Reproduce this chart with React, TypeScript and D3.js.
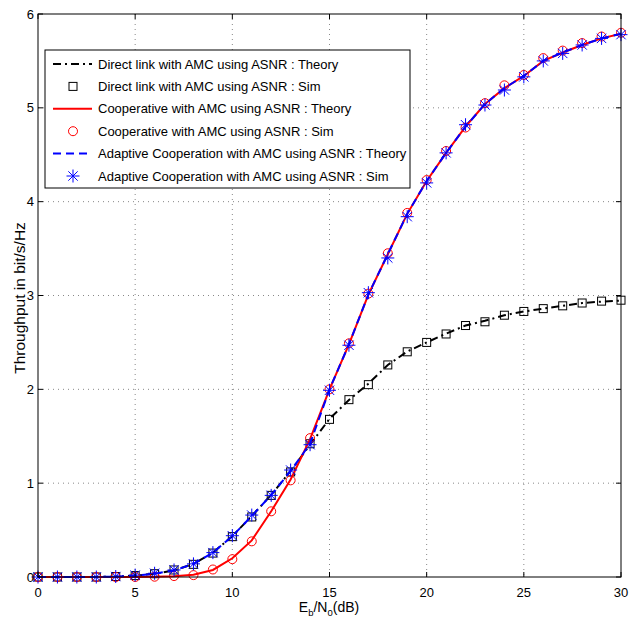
import React from "react";
import * as d3 from "d3";

const snr = d3.range(0, 31);
const directTheory = [0, 0, 0, 0, 0.005, 0.015, 0.035, 0.07, 0.14, 0.26, 0.435, 0.65, 0.875, 1.13, 1.41, 1.685, 1.887, 2.06, 2.259, 2.403, 2.5, 2.594, 2.68, 2.73, 2.79, 2.83, 2.86, 2.89, 2.92, 2.935, 2.945];
const directSim = [0, 0, 0, 0, 0.005, 0.015, 0.035, 0.075, 0.135, 0.255, 0.43, 0.64, 0.87, 1.12, 1.42, 1.68, 1.89, 2.05, 2.26, 2.4, 2.5, 2.59, 2.68, 2.72, 2.79, 2.83, 2.86, 2.89, 2.92, 2.94, 2.95];
const coopTheory = [0, 0, 0, 0, 0, 0, 0.002, 0.008, 0.025, 0.075, 0.2, 0.39, 0.7, 1.04, 1.47, 2.0, 2.48, 3.01, 3.44, 3.87, 4.22, 4.52, 4.8, 5.04, 5.21, 5.34, 5.5, 5.59, 5.67, 5.74, 5.79];
const coopSim = [0, 0, 0, 0, 0, 0, 0.003, 0.01, 0.02, 0.08, 0.19, 0.38, 0.7, 1.03, 1.48, 2.0, 2.49, 3.02, 3.45, 3.88, 4.23, 4.54, 4.79, 5.05, 5.24, 5.35, 5.53, 5.61, 5.69, 5.76, 5.8];
const adaptTheory = [0, 0, 0, 0, 0.005, 0.015, 0.035, 0.07, 0.14, 0.26, 0.435, 0.65, 0.875, 1.13, 1.42, 2.0, 2.48, 3.01, 3.44, 3.87, 4.22, 4.52, 4.8, 5.04, 5.21, 5.34, 5.5, 5.59, 5.67, 5.74, 5.79];
const adaptSim = [0, 0, 0, 0, 0.005, 0.02, 0.04, 0.075, 0.14, 0.26, 0.44, 0.66, 0.87, 1.14, 1.41, 1.99, 2.47, 3.03, 3.4, 3.84, 4.2, 4.52, 4.82, 5.03, 5.19, 5.33, 5.5, 5.58, 5.67, 5.74, 5.78];

const xTicks = [0, 5, 10, 15, 20, 25, 30];
const yTicks = [0, 1, 2, 3, 4, 5, 6];
const legendLabels = [
  "Direct link with AMC using ASNR : Theory",
  "Direct link with AMC using ASNR : Sim",
  "Cooperative with AMC using ASNR : Theory",
  "Cooperative with AMC using ASNR : Sim",
  "Adaptive Cooperation with AMC using ASNR : Theory",
  "Adaptive Cooperation with AMC using ASNR : Sim",
];

const FONT = "'Liberation Sans', Arial, Helvetica, sans-serif";
const L = 38, R = 621, T = 14, B = 577;

const x = d3.scaleLinear().domain([0, 30]).range([L, R]);
const y = d3.scaleLinear().domain([0, 6]).range([B, T]);

const line = (vals: number[]) =>
  d3.line<number>().x((_, i) => x(snr[i])).y((d) => y(d))(vals) || "";

const Square = ({ cx, cy }: { cx: number; cy: number }) => (
  <rect x={cx - 4} y={cy - 4} width={8} height={8} fill="none" stroke="#000" strokeWidth={1} />
);
const Circle = ({ cx, cy }: { cx: number; cy: number }) => (
  <circle cx={cx} cy={cy} r={4.5} fill="none" stroke="#ff0000" strokeWidth={1} />
);
const Star = ({ cx, cy }: { cx: number; cy: number }) => {
  const s = 6.5;
  const d = s * 0.72;
  return (
    <path
      d={`M${cx - s},${cy}L${cx + s},${cy}M${cx},${cy - s}L${cx},${cy + s}M${cx - d},${cy - d}L${cx + d},${cy + d}M${cx - d},${cy + d}L${cx + d},${cy - d}`}
      stroke="#0000ff"
      strokeWidth={1}
      fill="none"
    />
  );
};

const DASHDOT = "8,4,2,4";
const DASH = "8,5";

export default function App() {
  const legX = 45, legY = 50, legW = 365, legH = 138;
  const rowY = (i: number) => 64 + i * 22.4;
  return (
    <svg width={629} height={626} style={{ position: "absolute", left: 0, top: 0, background: "#fff" }} fontFamily={FONT}>
      <rect x={0} y={0} width={629} height={626} fill="#fff" />
      {/* grid */}
      {xTicks.slice(1, -1).map((t) => (
        <line key={"gx" + t} x1={x(t)} x2={x(t)} y1={T} y2={B} stroke="#888" strokeWidth={1} strokeDasharray="1,4" />
      ))}
      {yTicks.slice(1, -1).map((t) => (
        <line key={"gy" + t} x1={L} x2={R} y1={y(t)} y2={y(t)} stroke="#888" strokeWidth={1} strokeDasharray="1,4" />
      ))}
      {/* series */}
      <path d={line(directTheory)} fill="none" stroke="#000" strokeWidth={2} strokeDasharray={DASHDOT} />
      {directSim.map((v, i) => <Square key={"s" + i} cx={x(snr[i])} cy={y(v)} />)}
      <path d={line(coopTheory)} fill="none" stroke="#ff0000" strokeWidth={2} />
      {coopSim.map((v, i) => <Circle key={"c" + i} cx={x(snr[i])} cy={y(v)} />)}
      <path d={line(adaptTheory)} fill="none" stroke="#0000ff" strokeWidth={2} strokeDasharray={DASH} />
      {adaptSim.map((v, i) => <Star key={"a" + i} cx={x(snr[i])} cy={y(v)} />)}
      {/* box */}
      <rect x={L} y={T} width={R - L} height={B - T} fill="none" stroke="#000" strokeWidth={1} />
      {/* ticks */}
      {xTicks.map((t) => (
        <g key={"tx" + t}>
          <line x1={x(t)} x2={x(t)} y1={B} y2={B - 5} stroke="#000" />
          <line x1={x(t)} x2={x(t)} y1={T} y2={T + 5} stroke="#000" />
          <text x={x(t)} y={597} fontSize={13} textAnchor="middle">{t}</text>
        </g>
      ))}
      {yTicks.map((t) => (
        <g key={"ty" + t}>
          <line x1={L} x2={L + 5} y1={y(t)} y2={y(t)} stroke="#000" />
          <line x1={R} x2={R - 5} y1={y(t)} y2={y(t)} stroke="#000" />
          <text x={34} y={y(t) + 4.5} fontSize={13} textAnchor="end">{t}</text>
        </g>
      ))}
      {/* axis labels */}
      <text transform={`translate(25,298) rotate(-90)`} fontSize={15.5} textAnchor="middle">Throughput in bit/s/Hz</text>
      <text x={329} y={612} fontSize={14} textAnchor="middle">
        E<tspan fontSize={9.5} dy={4}>b</tspan><tspan dy={-4}>/N</tspan><tspan fontSize={9.5} dy={4}>0</tspan><tspan dy={-4}>(dB)</tspan>
      </text>
      {/* legend */}
      <rect x={legX} y={legY} width={legW} height={legH} fill="#fff" stroke="#000" strokeWidth={1} />
      <line x1={53} x2={92} y1={rowY(0)} y2={rowY(0)} stroke="#000" strokeWidth={2} strokeDasharray={DASHDOT} />
      <Square cx={73} cy={rowY(1)} />
      <line x1={53} x2={92} y1={rowY(2)} y2={rowY(2)} stroke="#ff0000" strokeWidth={2} />
      <Circle cx={73} cy={rowY(3)} />
      <line x1={53} x2={92} y1={rowY(4)} y2={rowY(4)} stroke="#0000ff" strokeWidth={2} strokeDasharray={DASH} />
      <Star cx={73} cy={rowY(5)} />
      {legendLabels.map((s, i) => (
        <text key={"l" + i} x={98} y={rowY(i) + 4.5} fontSize={13}>{s}</text>
      ))}
    </svg>
  );
}
